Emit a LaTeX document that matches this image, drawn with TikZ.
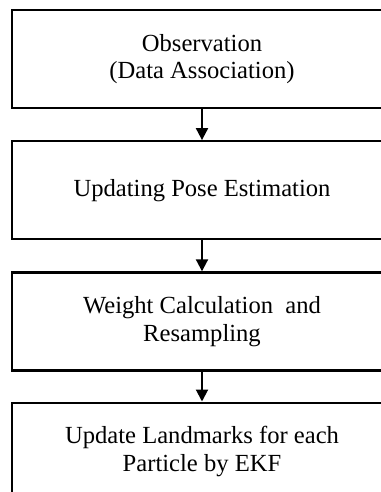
\documentclass[tikz,border=0pt]{standalone}
\usepackage{fontspec}
\setmainfont{Liberation Serif}
\usetikzlibrary{positioning,arrows.meta}

\tikzset{block/.style={draw,line width=2.2pt,minimum width=380pt,minimum height=98pt,
  align=center,inner sep=0pt,font=\fontsize{24.6}{27.5}\selectfont},
  flow/.style={line width=2pt,-{Triangle[length=12pt,width=12pt]}}}

\begin{document}
\begin{tikzpicture}[x=1pt,y=1pt]
\useasboundingbox (0,0) rectangle (380,-492);

\node[block] (obs) at (202,-59) {Observation\\(Data Association)};
\node[block,below=31pt of obs] (pose) {Updating Pose Estimation};
\node[block,below=31pt of pose] (weight) {Weight Calculation\ \ and\\Resampling};
\node[block,below=30pt of weight] (ekf) {Update Landmarks for each\\Particle by EKF};

\draw[flow] (obs) -- (pose);
\draw[flow] (pose) -- (weight);
\draw[flow] (weight) -- (ekf);
\end{tikzpicture}
\end{document}
